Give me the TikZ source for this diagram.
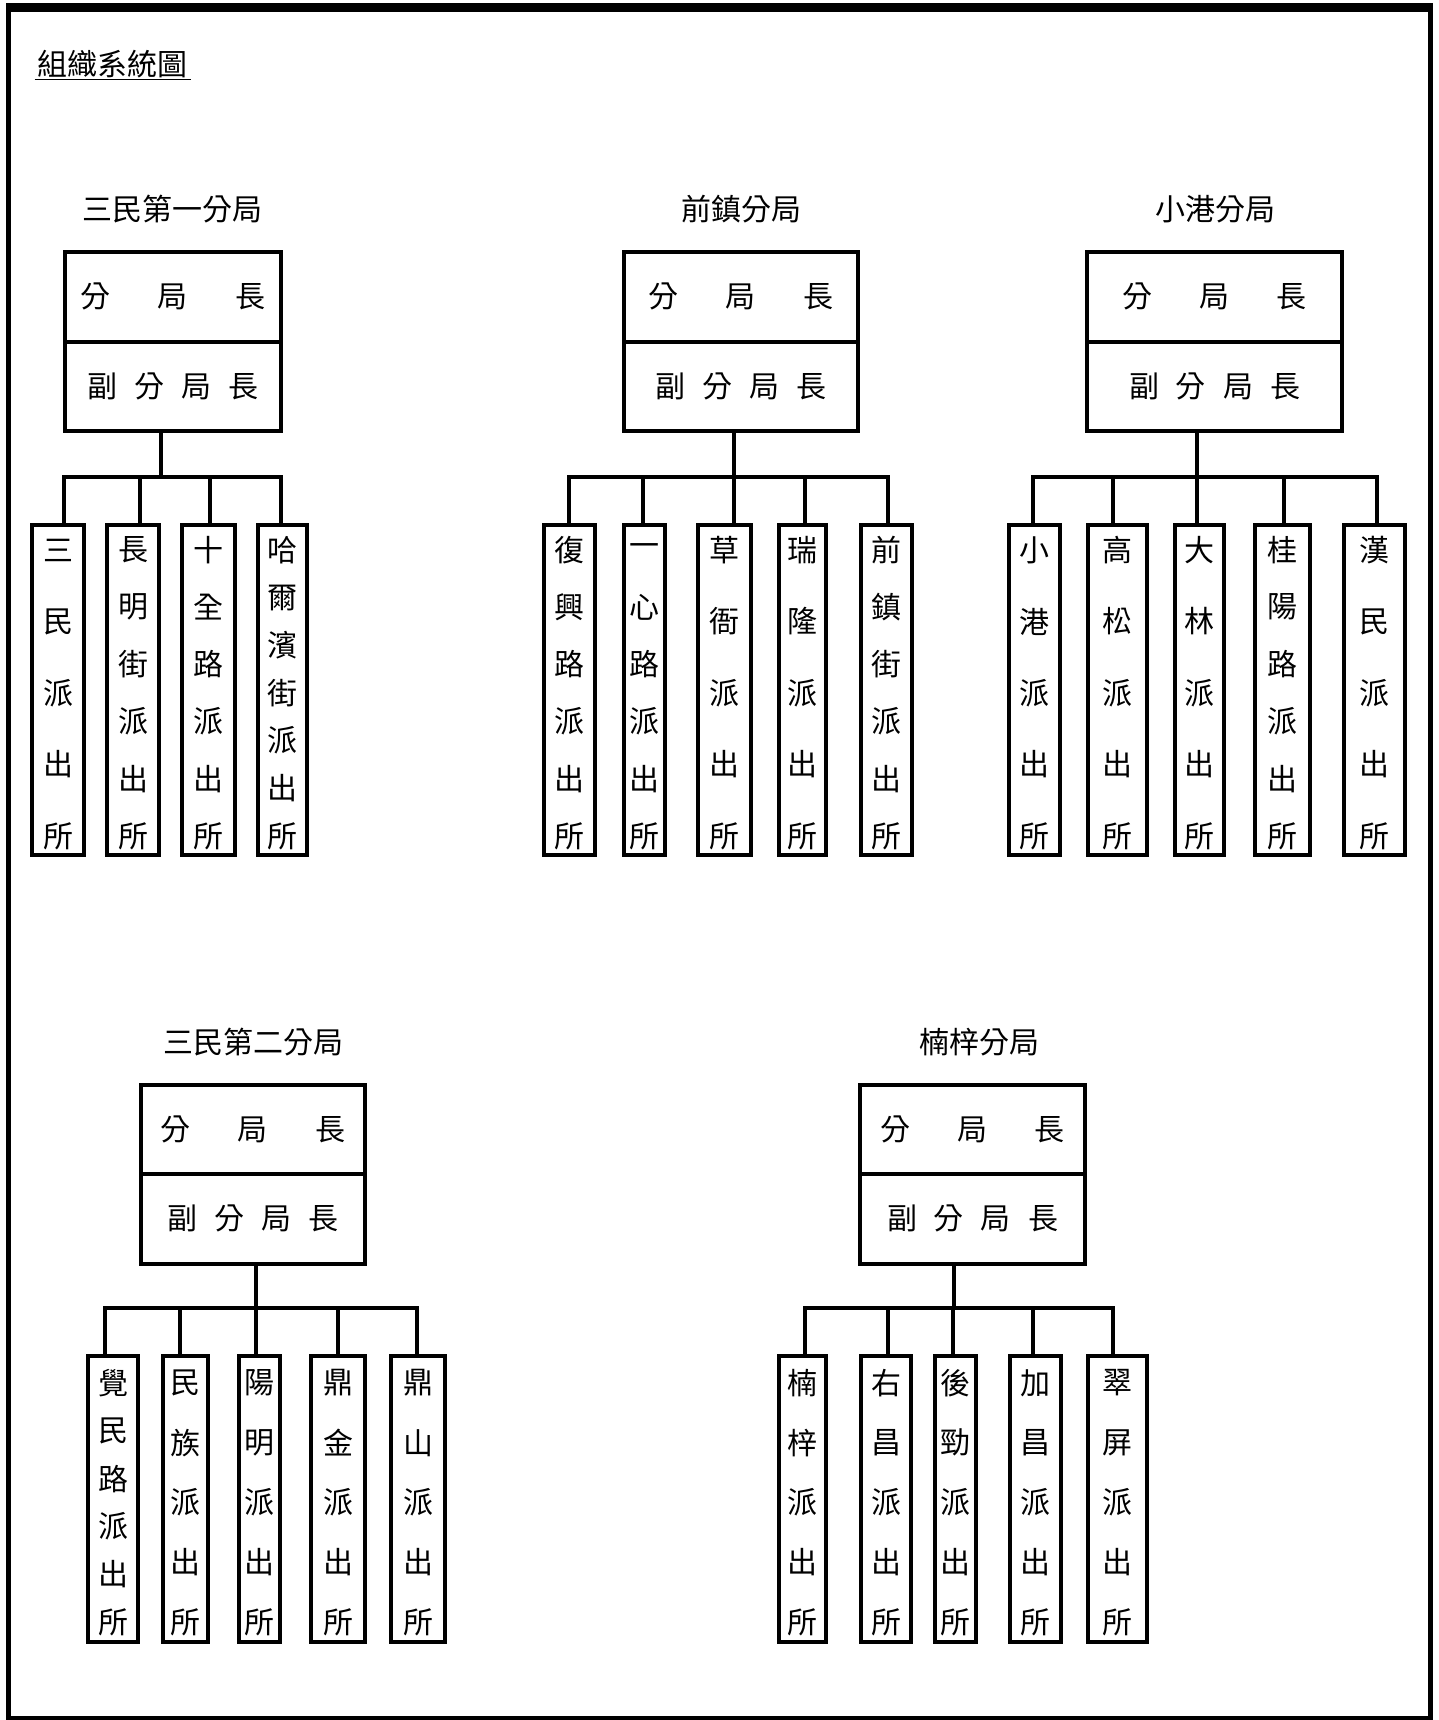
\documentclass[tikz,border=0pt]{standalone}
\usepackage{fontspec}
\setmainfont{Noto Sans CJK TC}
\newcommand\cjkfs{\fontsize{15pt}{18pt}\selectfont}
\tikzset{
  hbox/.style={draw, line width=2pt, inner sep=0pt, font=\cjkfs},
  sbox/.style={draw, line width=2pt, inner sep=0pt},
  chr/.style={inner sep=0pt, font=\cjkfs},
  conn/.style={line width=1.75pt},
  ttl/.style={inner sep=0pt, font=\cjkfs},
}
% header: name, xl, xr, ytop, ymid, ybot, stemx
\newcommand\hdrbox[7]{%
  \node[hbox, minimum width={(#3-#2)*0.5pt}, minimum height={(#5-#4)*0.5pt}]
    (#1a) at ({(#2+#3)/2},{(#4+#5)/2}) {分\hspace{23.75pt}局\hspace{23.75pt}長};
  \node[hbox, minimum width={(#3-#2)*0.5pt}, minimum height={(#6-#5)*0.5pt}]
    (#1b) at ({(#2+#3)/2},{(#5+#6)/2}) {副\hspace{8.5pt}分\hspace{8.5pt}局\hspace{8.5pt}長};
  \coordinate (#1s) at (#7,#6);
}
% station: name, xl(outer), xr(outer), dropx, n, chars
\newcommand\polbox[6]{%
  \node[sbox, minimum width={(#3-#2-4)*0.5pt}, minimum height={(\rowB-\rowT)*0.5pt}]
    (#1) at ({(#2+#3)/2},{(\rowT+\rowB)/2}) {};
  \coordinate (#1-d) at (#4,\rowT);
  \foreach \c [count=\i] in {#6}
    \node[chr] (#1-c\i) at ({(#2+#3)/2},{\chF+(\i-1)*(\chL-\chF)/(#5-1)}) {\c};
}
\begin{document}
\begin{tikzpicture}[x=0.5pt,y=-0.5pt]
\useasboundingbox (0,0) rectangle (1439,1720);
% frame
\draw[line width=4.25pt] (6,7.5) -- (1433,7.5);
\draw[line width=2.5pt] (8.5,3) -- (8.5,1720);
\draw[line width=2.5pt] (1430.5,3) -- (1430.5,1720);
\draw[line width=2.5pt] (6,1718) -- (1433,1718);

% main title
\node[ttl, inner ysep=0.6pt] (maintitle) at (113,64) {組織系統圖};
\draw[line width=0.75pt] ([xshift=-1.5pt]maintitle.south west) -- ([xshift=1.5pt]maintitle.south east);

% group titles
\node[ttl] (t1) at (173,209) {三民第一分局};
\node[ttl] (t2) at (741.5,209) {前鎮分局};
\node[ttl] (t3) at (1215,209) {小港分局};
\node[ttl] (t4) at (253,1042) {三民第二分局};
\node[ttl] (t5) at (979,1042) {楠梓分局};

% headers
\hdrbox{g1}{65}{281}{252}{341.5}{431}{161}
\hdrbox{g2}{624}{858}{252}{341.5}{431}{734}
\hdrbox{g3}{1087}{1342}{252}{341.5}{431}{1197}
\hdrbox{g4}{141}{365}{1085}{1174}{1263.5}{256}
\hdrbox{g5}{860}{1085}{1085}{1174}{1263.5}{954}

\coordinate (g1bus) at (161,477);
\coordinate (g2bus) at (734,477);
\coordinate (g3bus) at (1197,477);
\coordinate (g4bus) at (256,1308);
\coordinate (g5bus) at (954,1308);

% row 1 stations
\def\rowT{525}\def\rowB{855}\def\chF{550}\def\chL{836}
\polbox{g11}{30}{86}{64}{5}{三,民,派,出,所}
\polbox{g12}{105}{161}{140}{6}{長,明,街,派,出,所}
\polbox{g13}{180}{237}{210}{6}{十,全,路,派,出,所}
\polbox{g14}{256}{309}{281}{7}{哈,爾,濱,街,派,出,所}

\polbox{g21}{542}{597}{569}{6}{復,興,路,派,出,所}
\polbox{g22}{622}{667}{643}{6}{一,心,路,派,出,所}
\polbox{g23}{696}{753}{734}{5}{草,衙,派,出,所}
\polbox{g24}{777}{828}{805}{5}{瑞,隆,派,出,所}
\polbox{g25}{859}{914}{888}{6}{前,鎮,街,派,出,所}

\polbox{g31}{1007}{1062}{1033}{5}{小,港,派,出,所}
\polbox{g32}{1086}{1149}{1113}{5}{高,松,派,出,所}
\polbox{g33}{1173}{1226}{1197}{5}{大,林,派,出,所}
\polbox{g34}{1253}{1312}{1284}{6}{桂,陽,路,派,出,所}
\polbox{g35}{1342}{1407}{1377}{5}{漢,民,派,出,所}

% row 2 stations
\def\rowT{1355.5}\def\rowB{1642}\def\chF{1383}\def\chL{1622}
\polbox{g41}{86}{140}{105}{6}{覺,民,路,派,出,所}
\polbox{g42}{161}{210}{180}{5}{民,族,派,出,所}
\polbox{g43}{237}{282}{256}{5}{陽,明,派,出,所}
\polbox{g44}{309}{367}{338}{5}{鼎,金,派,出,所}
\polbox{g45}{389}{447}{417}{5}{鼎,山,派,出,所}

\polbox{g51}{777}{828}{805}{5}{楠,梓,派,出,所}
\polbox{g52}{859}{913}{888}{5}{右,昌,派,出,所}
\polbox{g53}{933}{978}{953}{5}{後,勁,派,出,所}
\polbox{g54}{1008}{1063}{1033}{5}{加,昌,派,出,所}
\polbox{g55}{1086}{1149}{1113}{5}{翠,屏,派,出,所}

% connectors
\foreach \k in {1,...,4} \draw[conn] (g1s) -- (g1bus) -| (g1\k-d);
\foreach \k in {1,...,5} \draw[conn] (g2s) -- (g2bus) -| (g2\k-d);
\foreach \k in {1,...,5} \draw[conn] (g3s) -- (g3bus) -| (g3\k-d);
\foreach \k in {1,...,5} \draw[conn] (g4s) -- (g4bus) -| (g4\k-d);
\foreach \k in {1,...,5} \draw[conn] (g5s) -- (g5bus) -| (g5\k-d);
\end{tikzpicture}
\end{document}
